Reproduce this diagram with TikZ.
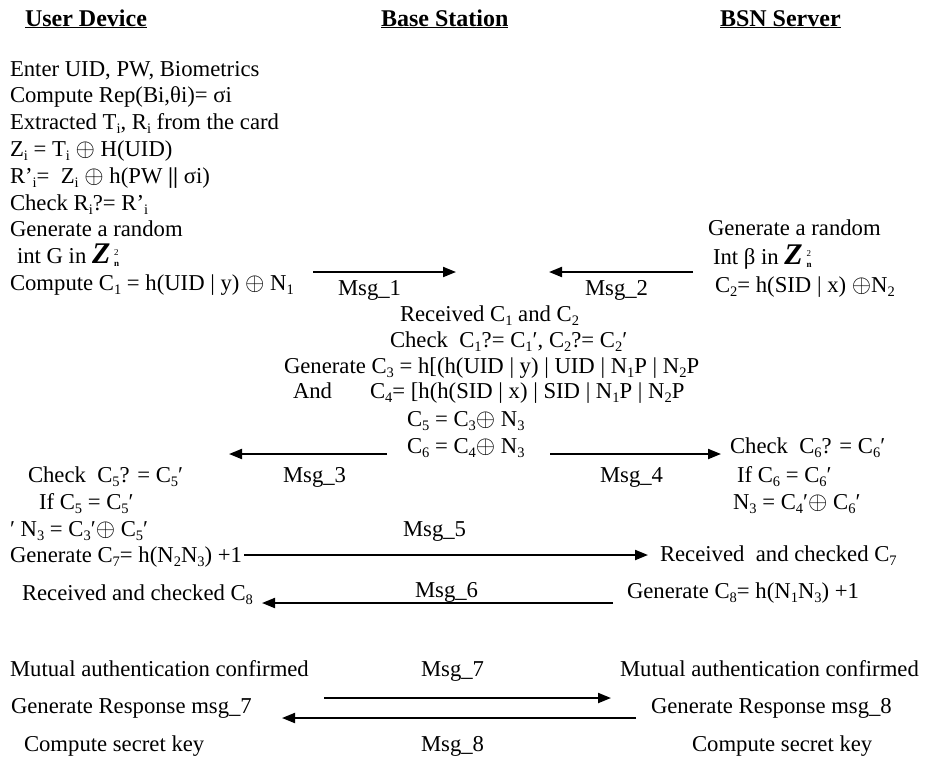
\documentclass[tikz,border=0pt]{standalone}
\usepackage{fontspec}
\setmainfont{Liberation Serif}
\usetikzlibrary{arrows.meta}
\newcommand\sbs[1]{\raisebox{-4pt}{\fontsize{14.5}{14.5}\selectfont #1}}
\newcommand\xo{\raisebox{0pt}{\scalebox{1.2}{$\oplus$}}}
\newcommand\Zn{{\fontsize{30}{30}\selectfont\bfseries\itshape Z}\,\rlap{\raisebox{-3pt}{\fontsize{9}{9}\selectfont\bfseries n}}\raisebox{8pt}{\fontsize{9}{9}\selectfont 2}}
\begin{document}
\begin{tikzpicture}[x=1pt,y=-1pt,
  every node/.style={inner sep=0pt,outer sep=0pt,anchor=base west,font=\fontsize{22.7}{26}\selectfont},
  hdr/.style={font=\fontsize{24}{26}\selectfont\bfseries},
  arr/.style={line width=2pt,-{Triangle[length=13pt,width=10pt]}}]
\useasboundingbox (0,0) rectangle (925,761);
% headers
\node[hdr] (hU) at (25,26) {\underline{User Device}};
\node[hdr] (hB) at (381,26) {\underline{Base Station}};
\node[hdr] (hS) at (720,26) {\underline{BSN Server}};
% user device
\node (u1) at (10,76) {Enter UID, PW, Biometrics};
\node (u2) at (10,102.8) {Compute Rep(Bi,θi)= σi};
\node (u3) at (10,129.6) {Extracted T\sbs{i}, R\sbs{i} from the card};
\node (u4) at (10,156.4) {Z\sbs{i} = T\sbs{i} \xo{} H(UID)};
\node (u5) at (10,183.2) {R'\sbs{i}= \ Z\sbs{i} \xo{} h(PW {\bfseries||} σi)};
\node (u6) at (10,210) {Check R\sbs{i}?= R'\sbs{i}};
\node (u7) at (10,236.8) {Generate a random};
\node (u8) at (17,263.6) {int G in \Zn};
\node (u9) at (10,290.4) {Compute C\sbs{1} = h(UID | y) \xo{} N\sbs{1}};
% server
\node (s1) at (708,235) {Generate a random};
\node (s2) at (713,264) {Int β in \Zn};
\node (s3) at (715,292) {C\sbs{2}= h(SID | x) \xo{}N\sbs{2}};
% msg 1,2
\coordinate (m1a) at (313,272); \coordinate (m1b) at (456,272);
\coordinate (m2a) at (693,272); \coordinate (m2b) at (549,272);
\draw[arr] (m1a) -- (m1b);
\draw[arr] (m2a) -- (m2b);
\node (l1) at (338,295) {Msg\_1};
\node (l2) at (585,295) {Msg\_2};
% base station
\node (b1) at (400,321.5) {Received C\sbs{1} and C\sbs{2}};
\node (b2) at (390,347) {Check \ C\sbs{1}?= C\sbs{1}′, C\sbs{2}?= C\sbs{2}′};
\node (b3) at (284,373) {Generate C\sbs{3} = h[(h(UID | y) | UID | N\sbs{1}P | N\sbs{2}P};
\node (b4a) at (293,398.5) {And};
\node (b4) at (370,398.5) {C\sbs{4}= [h(h(SID | x) | SID | N\sbs{1}P | N\sbs{2}P};
\node (b5) at (407,426) {C\sbs{5} = C\sbs{3}\xo{} N\sbs{3}};
\node (b6) at (407,453) {C\sbs{6} = C\sbs{4}\xo{} N\sbs{3}};
% msg 3,4
\coordinate (m3a) at (387,454); \coordinate (m3b) at (229,454);
\coordinate (m4a) at (550,454); \coordinate (m4b) at (721,454);
\draw[arr] (m3a) -- (m3b);
\draw[arr] (m4a) -- (m4b);
\node (l3) at (283,482) {Msg\_3};
\node (l4) at (600,482) {Msg\_4};
% user checks
\node (u10) at (28,482) {Check \ C\sbs{5}? = C\sbs{5}′};
\node (u11) at (39,509) {If C\sbs{5} = C\sbs{5}′};
\node (u12) at (10,536.5) {′ N\sbs{3} = C\sbs{3}′\xo{} C\sbs{5}′};
\node (u13) at (10,562) {Generate C\sbs{7}= h(N\sbs{2}N\sbs{3}) +1};
\node (u14) at (22,600) {Received and checked C\sbs{8}};
% server checks
\node (s4) at (730,453) {Check \ C\sbs{6}? = C\sbs{6}′};
\node (s5) at (737,482) {If C\sbs{6} = C\sbs{6}′};
\node (s6) at (733,509) {N\sbs{3} = C\sbs{4}′\xo{} C\sbs{6}′};
\node (s7) at (660,561) {Received \ and checked C\sbs{7}};
\node (s8) at (627,598) {Generate C\sbs{8}= h(N\sbs{1}N\sbs{3}) +1};
% msg 5,6
\node (l5) at (403,536) {Msg\_5};
\coordinate (m5b) at (648,555);
\draw[arr] ([xshift=2pt]u13.east |- m5b) -- (m5b);
\node (l6) at (415,597) {Msg\_6};
\coordinate (m6a) at (613,603); \coordinate (m6b) at (262,603);
\draw[arr] (m6a) -- (m6b);
% final
\node (u15) at (10,676) {Mutual authentication confirmed};
\node (l7) at (421,676) {Msg\_7};
\node (s9) at (620,676) {Mutual authentication confirmed};
\node (u16) at (11,713) {Generate Response msg\_7};
\node (s10) at (651,713) {Generate Response msg\_8};
\coordinate (m7a) at (324,698); \coordinate (m7b) at (611,698);
\coordinate (m8a) at (636,718); \coordinate (m8b) at (282,718);
\draw[arr] (m7a) -- (m7b);
\draw[arr] (m8a) -- (m8b);
\node (u17) at (24,751) {Compute secret key};
\node (l8) at (421,751) {Msg\_8};
\node (s11) at (692,751) {Compute secret key};
\end{tikzpicture}
\end{document}
